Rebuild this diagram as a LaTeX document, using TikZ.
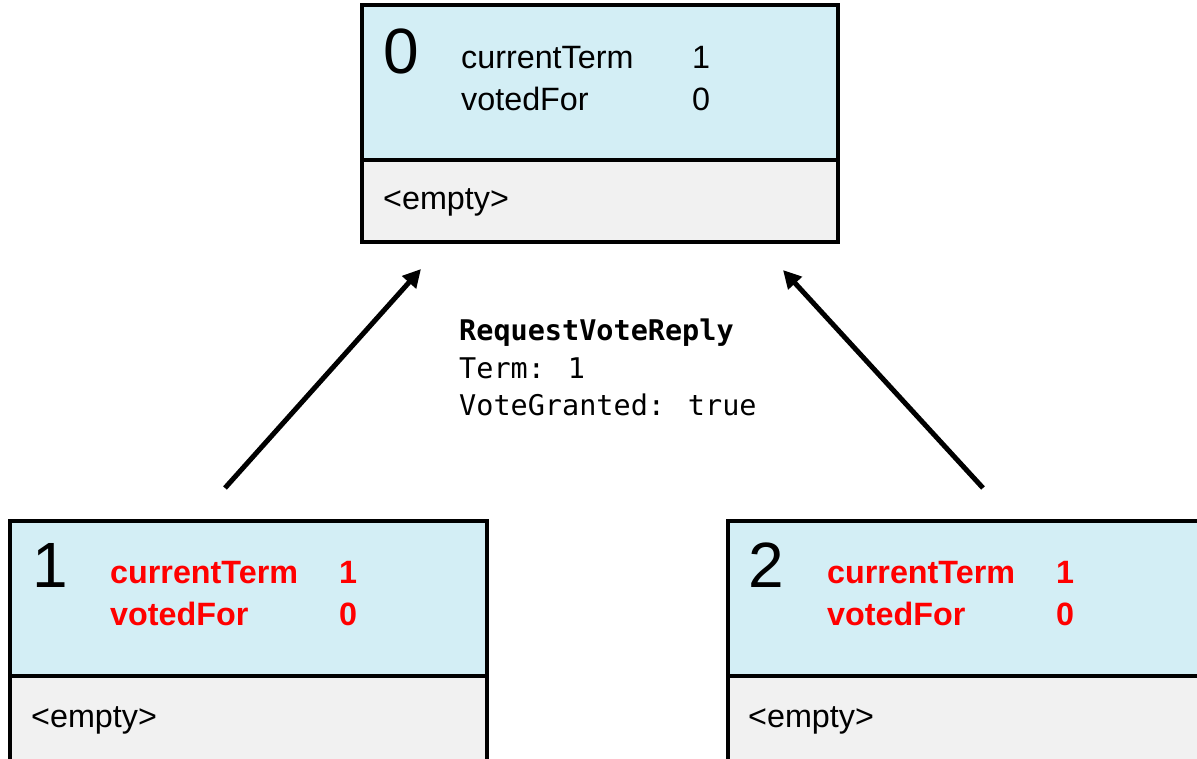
\documentclass[tikz,border=0pt]{standalone}
\usepackage{fontspec}
\setmainfont{Liberation Sans}
\newfontfamily\msgfont{DejaVu Sans Mono}
\usetikzlibrary{arrows.meta}
\definecolor{boxblue}{HTML}{D3EEF5}
\definecolor{boxgray}{HTML}{F1F1F1}
\definecolor{redtxt}{HTML}{FF0000}
\begin{document}
\begin{tikzpicture}[x=1pt,y=-1pt,
  boxpart/.style={draw=black,line width=4.5pt,anchor=north west,inner sep=0pt,outer sep=0pt,minimum width=#1},
  upperpart/.style={boxpart=#1,fill=boxblue,minimum height=155pt},
  lowerpart/.style={boxpart=#1,fill=boxgray,minimum height=110pt},
  lbl/.style={anchor=base west,inner sep=0pt,font=\fontsize{32.3}{32}\selectfont},
  redlbl/.style={lbl,text=redtxt,font=\fontsize{32.3}{32}\selectfont\bfseries},
  bignum/.style={anchor=base west,inner sep=0pt,font=\fontsize{64}{64}\selectfont},
  msg/.style={anchor=base west,inner sep=0pt,font=\msgfont\fontsize{28.5}{28.5}\selectfont},
  conn/.style={line width=5pt,-{Triangle[length=18pt,width=18pt]}}]
\useasboundingbox (0,0) rectangle (1197,758);
\clip (0,0) rectangle (1197,758);
% server 0
\node[upperpart=476pt] (s0top) at (362,5) {};
\node[lowerpart=476pt,minimum height=82pt] (s0bot) at (362,160) {};
\node[bignum] (s0id) at (383,73) {0};
\node[lbl] (s0ct) at (461,68) {currentTerm};
\node[lbl] (s0ctv) at (692,68) {1};
\node[lbl] (s0vf) at (461,110) {votedFor};
\node[lbl] (s0vfv) at (692,110) {0};
\node[lbl] (s0log) at (383,209) {<empty>};
% server 1
\node[upperpart=477pt] (s1top) at (10,521) {};
\node[lowerpart=477pt] (s1bot) at (10,676) {};
\node[bignum] (s1id) at (32,587) {1};
\node[redlbl] (s1ct) at (110,583) {currentTerm};
\node[redlbl] (s1ctv) at (339,583) {1};
\node[redlbl] (s1vf) at (110,625) {votedFor};
\node[redlbl] (s1vfv) at (339,625) {0};
\node[lbl] (s1log) at (31,727) {<empty>};
% server 2
\node[upperpart=477pt] (s2top) at (728,521) {};
\node[lowerpart=477pt] (s2bot) at (728,676) {};
\node[bignum] (s2id) at (748,587) {2};
\node[redlbl] (s2ct) at (827,583) {currentTerm};
\node[redlbl] (s2ctv) at (1056,583) {1};
\node[redlbl] (s2vf) at (827,625) {votedFor};
\node[redlbl] (s2vfv) at (1056,625) {0};
\node[lbl] (s2log) at (748,727) {<empty>};
% message
\node[msg,font=\msgfont\fontsize{28.5}{28.5}\selectfont\bfseries] (m1) at (459,340) {RequestVoteReply};
\node[msg] (m2) at (459,378) {Term: 1};
\node[msg] (m3) at (459,415) {VoteGranted: true};
% connectors
\coordinate (a1s) at (225,488);
\coordinate (a1e) at (421,269);
\coordinate (a2s) at (983,488);
\coordinate (a2e) at (783,270);
\draw[conn] (a1s) -- (a1e);
\draw[conn] (a2s) -- (a2e);
\end{tikzpicture}
\end{document}
